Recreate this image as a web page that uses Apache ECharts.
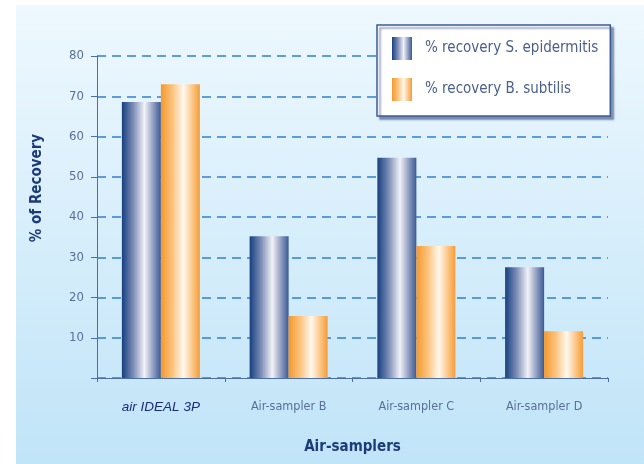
<!DOCTYPE html>
<html><head><meta charset="utf-8">
<script src="https://cdn.jsdelivr.net/npm/echarts@6/dist/echarts.min.js"></script>
<style>html,body{margin:0;padding:0;background:#fff}#c{width:644px;height:464px}</style>
</head><body><div id="c"></div>
<script>
var categories = ['air IDEAL 3P', 'Air-sampler B', 'Air-sampler C', 'Air-sampler D'];
var seriesNames = ['% recovery S. epidermitis', '% recovery B. subtilis'];
var epidermitis = [68.6, 35.2, 54.7, 27.5];
var subtilis = [73, 15.4, 32.8, 11.6];
var yTicks = [10, 20, 30, 40, 50, 60, 70, 80];

var chart = echarts.init(document.getElementById('c'), null, {renderer: 'canvas'});
var condensed = '"DejaVu Sans Condensed", "Liberation Sans Narrow", sans-serif';
function grad(stops) {
  return new echarts.graphic.LinearGradient(0, 0, 1, 0, stops.map(function (s) { return {offset: s[0], color: s[1]}; }));
}
var blueGrad = grad([[0, '#163f80'], [0.3, '#7f8fb8'], [0.58, '#f2f2f8'], [0.85, '#7c8db6'], [1, '#3a5b96']]);
var orangeGrad = grad([[0, '#f5982c'], [0.3, '#fbc47f'], [0.58, '#fff8ee'], [0.85, '#fbbd74'], [1, '#f59c38']]);

chart.setOption({
  animation: false,
  graphic: [{
    type: 'rect', z: -10, silent: true,
    shape: {x: 16, y: 5, width: 628, height: 459},
    style: {fill: new echarts.graphic.LinearGradient(0, 0, 0, 1, [{offset: 0, color: '#eef8fe'}, {offset: 1, color: '#c0e4f8'}])}
  }],
  legend: {
    orient: 'vertical',
    left: 377, top: 25,
    padding: [12, 12, 15, 15],
    itemWidth: 20, itemHeight: 23, itemGap: 18,
    icon: 'rect',
    backgroundColor: '#ffffff',
    borderColor: '#3a5b96', borderWidth: 1.5,
    shadowColor: 'rgba(40,60,110,0.55)', shadowOffsetX: 3, shadowOffsetY: 3, shadowBlur: 2,
    textStyle: {color: '#4a5f8c', fontSize: 15, fontFamily: condensed, padding: [0, 0, 0, 8]},
    data: seriesNames
  },
  grid: {left: 97, right: 36, top: 56, bottom: 86},
  xAxis: {
    type: 'category', data: categories,
    name: 'Air-samplers', nameLocation: 'middle', nameGap: 62,
    nameTextStyle: {color: '#1c3b78', fontWeight: 'bold', fontSize: 15, fontFamily: condensed},
    axisLine: {lineStyle: {color: '#4a6fa5', width: 1}},
    axisTick: {show: true, length: 4, lineStyle: {color: '#4a6fa5'}},
    axisLabel: {
      margin: 22,
      formatter: function (v, i) { return i === 0 ? '{a|' + v + '}' : '{b|' + v + '}'; },
      rich: {
        a: {color: '#1a2a80', fontStyle: 'italic', fontSize: 13.5, fontFamily: 'Liberation Sans, Arial, sans-serif'},
        b: {color: '#5a6f98', fontSize: 12.5, fontFamily: condensed}
      }
    }
  },
  yAxis: {
    type: 'value', min: 0, max: 80, interval: 10,
    name: '% of Recovery', nameLocation: 'middle', nameGap: 52, nameRotate: 90,
    nameTextStyle: {color: '#1c3b78', fontWeight: 'bold', fontSize: 15, fontFamily: condensed, padding: [0, 0, 0, 58]},
    axisLine: {show: true, lineStyle: {color: '#4a6fa5', width: 1}},
    axisTick: {show: true, length: 6, lineStyle: {color: '#4a6fa5'}},
    axisLabel: {
      color: '#5a6f98', fontSize: 13, fontFamily: condensed, margin: 13,
      formatter: function (v) { return yTicks.indexOf(v) >= 0 ? String(v) : ''; }
    },
    splitLine: {show: true, lineStyle: {color: '#2f80d2', width: 1.6, type: [9, 6]}}
  },
  series: [
    {name: seriesNames[0], type: 'bar', data: epidermitis, barWidth: 39, barGap: '0%',
     itemStyle: {color: blueGrad}},
    {name: seriesNames[1], type: 'bar', data: subtilis, barWidth: 39, barGap: '0%',
     itemStyle: {color: orangeGrad}}
  ]
});
</script></body></html>
